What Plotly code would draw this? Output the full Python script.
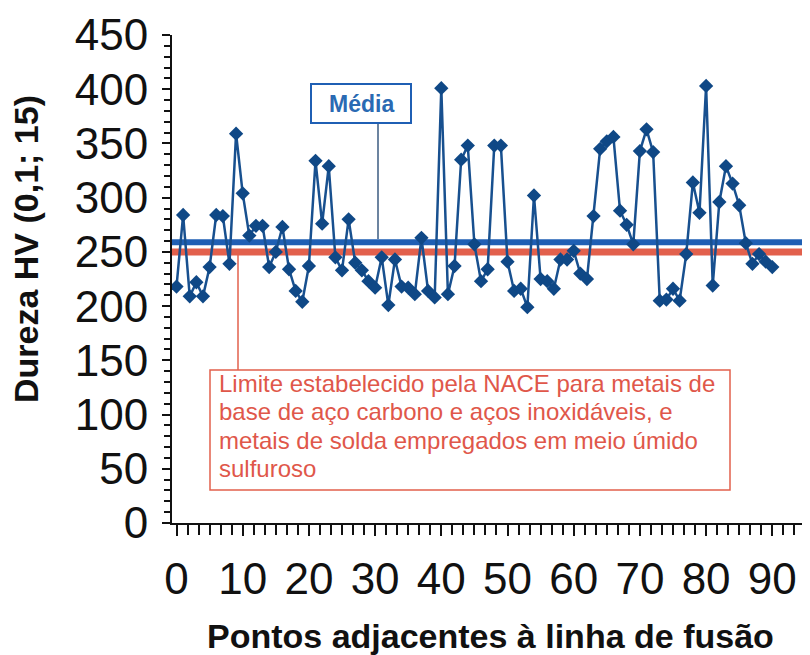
import plotly.graph_objects as go

# ---- data ----
dureza_hv = [
    218, 284, 209, 222, 209, 236, 284, 283, 239, 359,
    304, 265, 274, 274, 236, 250, 273, 234, 214, 204,
    237, 334, 276, 329, 245, 233, 280, 240, 233, 223,
    217, 245, 201, 243, 218, 217, 211, 263, 214, 208,
    401, 211, 237, 335, 348, 257, 223, 234, 348, 348,
    241, 214, 216, 199, 302, 225, 223, 216, 243, 243,
    251, 230, 225, 283, 345, 352, 356, 288, 275, 257,
    343, 363, 342, 205, 206, 216, 205, 248, 314, 286,
    403, 219, 296, 329, 313, 293, 258, 239, 248, 241,
    236,
]
pontos = list(range(len(dureza_hv)))
media_hv = 259          # mean line as drawn in the reference
limite_nace = 250       # NACE limit line
x_tick_vals = [0, 10, 20, 30, 40, 50, 60, 70, 80, 90]
x_tick_text = ["0", "10", "20", "30", "40", "50", "60", "70", "80", "90"]
y_tick_vals = [0, 50, 100, 150, 200, 250, 300, 350, 400, 450]
texto_media = "Média"
linhas_nace = [
    "Limite estabelecido pela NACE para metais de",
    "base de aço carbono e aços inoxidáveis, e",
    "metais de solda empregados em meio úmido",
    "sulfuroso",
]
titulo_x = "Pontos adjacentes à linha de fusão"
titulo_y = "Dureza HV (0,1; 15)"

# ---- layout geometry (pixels of the reference picture) ----
OFF = 8                      # page body margin of the browser
W, H = 810, 655
PL, PR, PT, PB = 172, 808, 35, 523


def px(xp):
    return (xp - PL) / (PR - PL)


def py(yp):
    return (PB - yp) / (PB - PT)


FONT = "Liberation Sans, Arial, sans-serif"
BLUE_MEAN = "#1f5fb4"
RED_LIM = "#e2604c"
DATA_COL = "#18508f"

fig = go.Figure()
fig.add_trace(go.Scatter(
    x=pontos, y=dureza_hv, mode="lines+markers",
    line=dict(color=DATA_COL, width=2.5),
    marker=dict(symbol="diamond", size=11, color="#0f4886"),
    showlegend=False, hoverinfo="skip",
))

shapes = [
    dict(type="line", xref="paper", yref="y", x0=0, x1=1, y0=media_hv, y1=media_hv,
         line=dict(color=BLUE_MEAN, width=6), layer="below"),
    dict(type="line", xref="paper", yref="y", x0=0, x1=1, y0=limite_nace, y1=limite_nace,
         line=dict(color=RED_LIM, width=7), layer="below"),
    dict(type="line", xref="paper", yref="paper", x0=1, x1=1, y0=0, y1=1,
         line=dict(color="#555555", width=1)),
    dict(type="line", xref="paper", yref="paper", x0=px(378), x1=px(378),
         y0=py(123), y1=py(239), line=dict(color="#3b5b80", width=1.5)),
    dict(type="rect", xref="paper", yref="paper", x0=px(311), x1=px(411),
         y0=py(123), y1=py(84), line=dict(color=BLUE_MEAN, width=2),
         fillcolor="white"),
    dict(type="line", xref="paper", yref="paper", x0=px(238), x1=px(238),
         y0=py(370), y1=py(255), line=dict(color=RED_LIM, width=1.5)),
    dict(type="rect", xref="paper", yref="paper", x0=px(210), x1=px(730),
         y0=py(490), y1=py(370), line=dict(color=RED_LIM, width=1.5),
         fillcolor="white"),
]

annotations = [
    dict(text="<b>" + texto_media + "</b>", xref="paper", yref="paper",
         x=px(361), y=py(104), xanchor="center", yanchor="middle",
         showarrow=False, font=dict(family=FONT, size=23, color="#2a6ab3")),
    dict(text="<b>" + titulo_x + "</b>", xref="paper", yref="paper",
         x=px(490), y=py(636), xanchor="center", yanchor="middle",
         showarrow=False, font=dict(family=FONT, size=34, color="#111111")),
    dict(text="<b>" + titulo_y + "</b>", xref="paper", yref="paper",
         x=px(26), y=py(249), xanchor="center", yanchor="middle",
         textangle=-90, showarrow=False,
         font=dict(family=FONT, size=34, color="#111111")),
]
linha_y = [383, 411.5, 440, 468.5]
for txt, yy in zip(linhas_nace, linha_y):
    annotations.append(dict(
        text=txt, xref="paper", yref="paper", x=px(217), y=py(yy),
        xanchor="left", yanchor="middle", align="left", showarrow=False,
        font=dict(family=FONT, size=24, color="#e0574a")))

fig.update_layout(
    width=W - OFF, height=H - OFF,
    margin=dict(l=PL - OFF, r=W - PR, t=PT - OFF, b=H - PB, autoexpand=False),
    paper_bgcolor="white", plot_bgcolor="white",
    shapes=shapes, annotations=annotations,
    showlegend=False,
)

x_unit = 6.62
x0 = (PL - 176.5) / x_unit
fig.update_xaxes(
    range=[x0, x0 + (PR - PL) / x_unit],
    tickmode="array", tickvals=x_tick_vals, ticktext=x_tick_text,
    ticks="outside", ticklen=11, tickwidth=2, tickcolor="#111111",
    minor=dict(ticks="outside", ticklen=10, tickwidth=1.5, tickcolor="#111111",
               dtick=10 / 6, tick0=0, showgrid=False),
    showline=True, linecolor="#111111", linewidth=2,
    showgrid=False, zeroline=False,
    tickfont=dict(family=FONT, size=44, color="#111111"),
    ticklabelstandoff=5,
)
fig.update_yaxes(
    range=[0, 450],
    tickmode="array", tickvals=y_tick_vals,
    ticks="outside", ticklen=8, tickwidth=2, tickcolor="#111111",
    minor=dict(ticks="outside", ticklen=6, tickwidth=1.5, tickcolor="#111111",
               dtick=10, tick0=0, showgrid=False),
    showline=True, linecolor="#111111", linewidth=2,
    showgrid=False, zeroline=False,
    tickfont=dict(family=FONT, size=44, color="#111111"),
    ticklabelstandoff=5,
)

fig.write_html("out.html")
